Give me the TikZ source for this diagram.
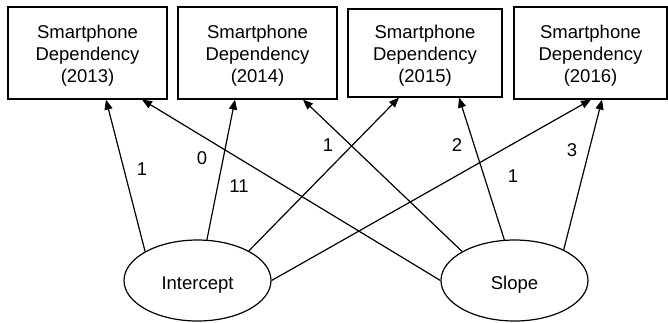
\documentclass[tikz,border=0pt]{standalone}
\usepackage{fontspec}
\setmainfont{Liberation Sans}
\usetikzlibrary{arrows.meta,shapes.geometric}
\begin{document}
\begin{tikzpicture}[x=1pt,y=-1pt,
  every node/.style={font=\fontsize{18.5}{22.2}\selectfont},
  boxnode/.style={draw,line width=1.2pt,inner sep=0pt},
  boxtext/.style={align=center,inner sep=0pt},
  latent/.style={draw,ellipse,line width=1.2pt,minimum width=147pt,minimum height=81pt,inner sep=0pt},
  path/.style={line width=1.2pt,-{Triangle[length=10pt,width=8pt]}},
  lbl/.style={inner sep=0pt}]
\useasboundingbox (0,0) rectangle (668,322);
\node[boxnode,minimum width=159pt,minimum height=92pt] (B1) at (87.5,53) {};
\node[boxnode,minimum width=159pt,minimum height=92pt] (B2) at (257.5,53) {};
\node[boxnode,minimum width=154pt,minimum height=88pt] (B3) at (425,53) {};
\node[boxnode,minimum width=153pt,minimum height=92pt] (B4) at (590.5,53) {};
\node[boxtext] (T1) at (87.5,55.7) {Smartphone\\Dependency\\(2013)};
\node[boxtext] (T2) at (257.5,55.7) {Smartphone\\Dependency\\(2014)};
\node[boxtext] (T3) at (425,55.7) {Smartphone\\Dependency\\(2015)};
\node[boxtext] (T4) at (590.5,55.7) {Smartphone\\Dependency\\(2016)};
\node[latent] (I) at (197.5,280.5) {};
\node[latent] (S) at (514.5,280.5) {};
\node[lbl,anchor=base] (IT) at (197.5,289.3) {Intercept};
\node[lbl,anchor=base] (ST) at (514.5,289.3) {Slope};
\draw[path] (I.151) -- ([xshift=18.5pt]B1.south);
\draw[path] (I.77) -- ([xshift=-22.5pt]B2.south);
\draw[path] (I.30) -- ([xshift=-26pt]B3.south);
\draw[path] (I.0) -- ([xshift=0.5pt]B4.south);
\draw[path] (S.180) -- ([xshift=54.5pt]B1.south);
\draw[path] (S.151.5) -- ([xshift=45.5pt]B2.south);
\draw[path] (S.104.5) -- ([xshift=34pt]B3.south);
\draw[path] (S.32.4) -- ([xshift=11.5pt]B4.south);
\node[lbl] (l1) at (142,169) {1};
\node[lbl] (l2) at (202,158) {0};
\node[lbl] (l3) at (239,186) {11};
\node[lbl] (l4) at (328,145) {1};
\node[lbl] (l5) at (457,145) {2};
\node[lbl] (l6) at (572,150) {3};
\node[lbl] (l7) at (513,176) {1};
\end{tikzpicture}
\end{document}
